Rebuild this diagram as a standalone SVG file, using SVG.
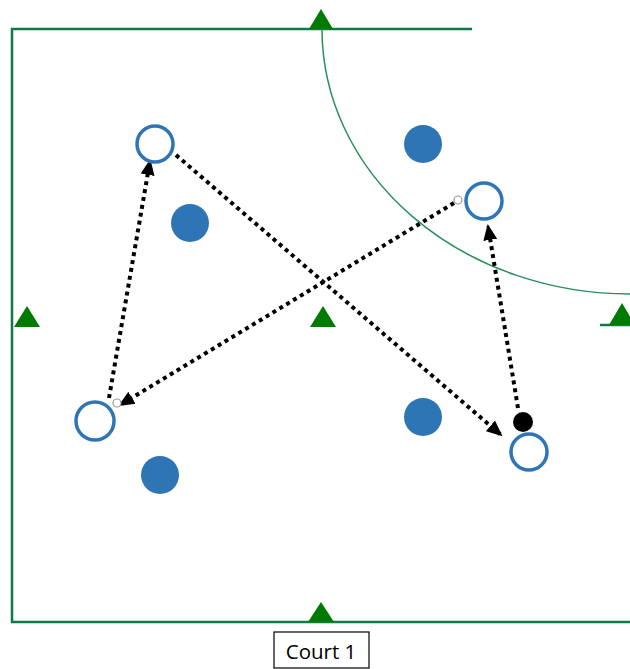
<svg xmlns="http://www.w3.org/2000/svg" width="630" height="669" viewBox="0 0 630 669">
<style>
.court{fill:none;stroke:#0e7a48;stroke-width:2.5}
.arc{fill:none;stroke:#2a8f5f;stroke-width:1.5}
.cone{fill:#007a00}
.open{fill:#fff;stroke:#2e75b6;stroke-width:3.5}
.def{fill:#2e75b6}
.pass{fill:none;stroke:#000;stroke-width:4;stroke-dasharray:4 4}
.handle{fill:#fff;stroke:#999;stroke-width:1.2}
.lbl{font-family:"Open Sans","Liberation Sans",sans-serif;font-size:20.5px;fill:#000}
</style>
<defs>
<marker id="ah" markerUnits="userSpaceOnUse" markerWidth="16" markerHeight="16" viewBox="0 0 16 16" refX="14" refY="8" orient="auto">
<path d="M0,1 L16,8 L0,15 Z" fill="#000"/>
</marker>
</defs>
<g id="court">
<path class="court" d="M472,29 H12 V622 H630"/>
<path class="court" d="M600,325 H630"/>
<path class="arc" d="M322,29 A308,265 0 0 0 630,294"/>
</g>
<g id="cones">
<polygon class="cone" points="321,9 333,29 309,29"/>
<polygon class="cone" points="27,306 40,327 14,327"/>
<polygon class="cone" points="323,306 336,327 310,327"/>
<polygon class="cone" points="622,303 635,325 609,325"/>
<polygon class="cone" points="321,602 334,622 308,622"/>
</g>
<g id="connectors">
<line class="pass" x1="109" y1="398" x2="150" y2="161" marker-end="url(#ah)"/>
<line class="pass" x1="176" y1="155" x2="501" y2="435" marker-end="url(#ah)"/>
<line class="pass" x1="454" y1="203" x2="120" y2="405" marker-end="url(#ah)"/>
<line class="pass" x1="518" y1="408" x2="488" y2="226" marker-end="url(#ah)"/>
<circle class="handle" cx="458" cy="200" r="4"/>
<circle class="handle" cx="117" cy="403" r="4"/>
</g>
<g id="att1"><circle class="open" cx="155" cy="144" r="18"/></g>
<g id="att2"><circle class="open" cx="484" cy="201" r="18"/></g>
<g id="att3"><circle class="open" cx="95" cy="421" r="19"/></g>
<g id="att4"><circle class="open" cx="529" cy="452" r="18"/></g>
<g id="def1"><circle class="def" cx="423" cy="144" r="19"/></g>
<g id="def2"><circle class="def" cx="190" cy="223" r="19"/></g>
<g id="def3"><circle class="def" cx="423" cy="417" r="19"/></g>
<g id="def4"><circle class="def" cx="160" cy="475" r="19"/></g>
<g id="ball"><circle cx="523" cy="422" r="10" fill="#000"/></g>
<g id="label">
<rect x="274" y="632" width="95" height="36" fill="#fff" stroke="#000" stroke-width="1.2"/>
<text class="lbl" x="321" y="659" text-anchor="middle">Court 1</text>
</g>
</svg>
